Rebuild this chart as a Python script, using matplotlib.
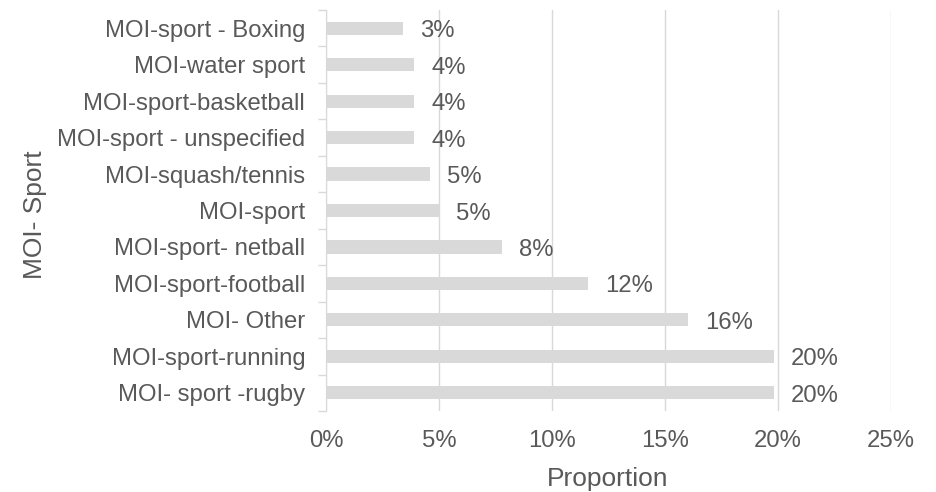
import numpy as np
import matplotlib
matplotlib.use("Agg")
import matplotlib.pyplot as plt
from matplotlib.ticker import FuncFormatter, FixedLocator

plt.rcParams["font.family"] = ["Liberation Sans", "DejaVu Sans"]

C_BAR, C_GRID, C_TEXT = "#d9d9d9", "#d9d9d9", "#595959"

# top to bottom as drawn
categories = ["MOI-sport - Boxing", "MOI-water sport", "MOI-sport-basketball",
              "MOI-sport - unspecified", "MOI-squash/tennis", "MOI-sport",
              "MOI-sport- netball", "MOI-sport-football", "MOI- Other",
              "MOI-sport-running", "MOI- sport -rugby"]
values = [0.034, 0.039, 0.039, 0.039, 0.046, 0.050,
          0.078, 0.116, 0.160, 0.198, 0.198]
x_ticks = [0, 0.05, 0.10, 0.15, 0.20, 0.25]

FS = 17.2

fig = plt.figure(figsize=(9.37, 4.92), dpi=100)
ax = fig.add_axes([0.348, 0.1646, 0.603, 0.8151])

n = len(categories)
y = np.arange(n)[::-1]
ax.barh(y, values, height=0.36, color=C_BAR, zorder=2)
for yi, v in zip(y, values):
    ax.annotate(f"{v*100:.0f}%", (v, yi), xytext=(17, -3),
                textcoords="offset pixels",
                va="center", ha="left", fontsize=FS, color=C_TEXT)

ax.set_xlim(0, 0.25)
ax.set_ylim(-0.5, n - 0.5)
ax.set_xticks(x_ticks)
ax.xaxis.set_major_formatter(FuncFormatter(lambda v, p: f"{v*100:.0f}%"))
ax.set_yticks(y)
ax.set_yticklabels(categories)
ax.yaxis.set_minor_locator(FixedLocator(np.arange(-0.5, n, 1.0)))
ax.tick_params(axis="y", which="major", length=0, pad=15,
               labelsize=FS, labelcolor=C_TEXT)
ax.tick_params(axis="y", which="minor", length=6, color=C_GRID, width=1)
ax.tick_params(axis="x", length=0, pad=14, labelsize=FS, labelcolor=C_TEXT)

ax.grid(True, axis="x", color=C_GRID, linewidth=1, zorder=0)
for s in ("top", "right", "bottom"):
    ax.spines[s].set_visible(False)
ax.spines["left"].set_color(C_GRID)
ax.spines["left"].set_zorder(3)

# axis titles placed in figure coords
fig.text(608 / 937, 1 - 479 / 492, "Proportion", fontsize=19, color=C_TEXT,
         ha="center", va="center")
fig.text(35 / 937, 1 - 215 / 492, "MOI- Sport", fontsize=19, color=C_TEXT,
         ha="center", va="center", rotation=90)

fig.savefig("out.png", dpi=100, facecolor="white")
